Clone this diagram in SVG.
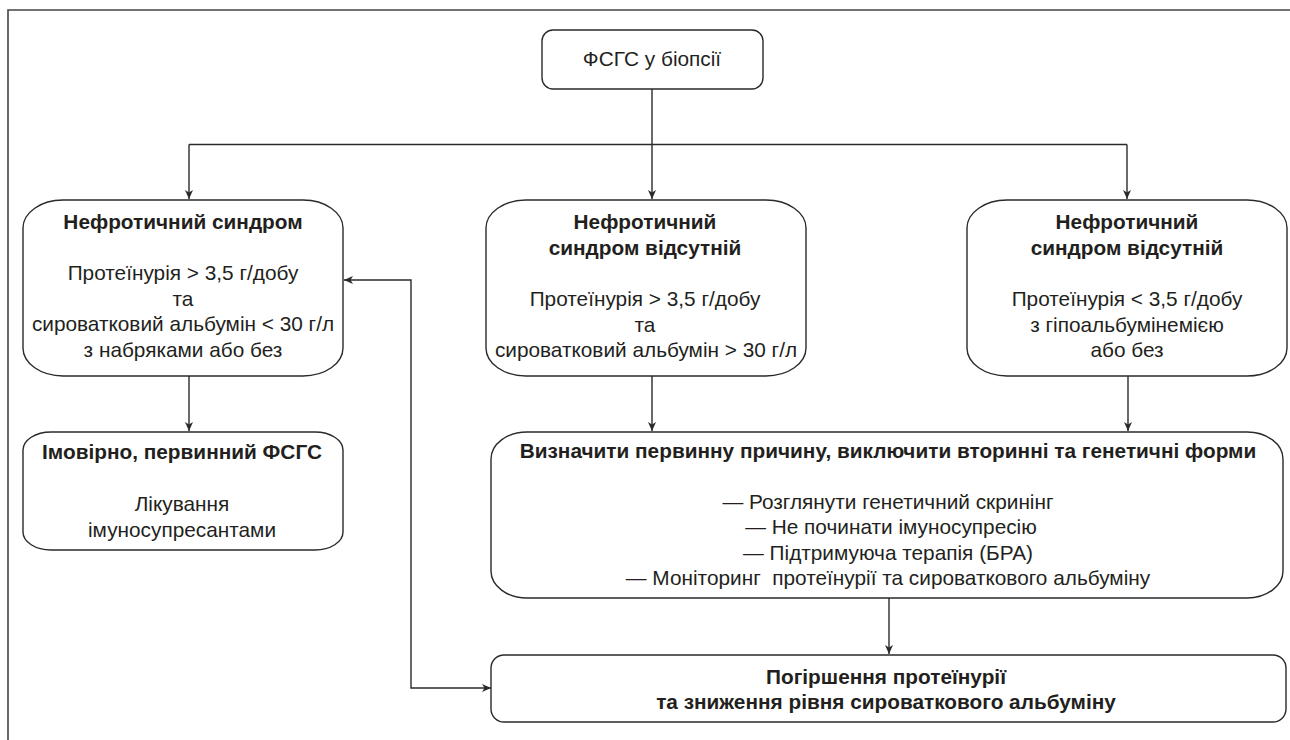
<svg xmlns="http://www.w3.org/2000/svg" width="1290" height="740" viewBox="0 0 1290 740">
<style>
.box{fill:#fff;stroke:#2a2a2a;stroke-width:1.4}
.t{font-family:"Liberation Sans",Arial,Helvetica,sans-serif;font-size:20.8px;fill:#231f20;text-anchor:middle}
.b{font-weight:bold}
.c{fill:none;stroke:#2a2a2a;stroke-width:1.4}
.frame{fill:none;stroke:#444;stroke-width:1.6}
</style>
<defs>
<marker id="ah" markerWidth="10" markerHeight="10" refX="9" refY="5" orient="auto-start-reverse" markerUnits="userSpaceOnUse">
<path d="M0,1 L9,5 L0,9 L2.5,5 Z" fill="#2a2a2a"/>
</marker>
</defs>
<rect width="1290" height="740" fill="#fff"/>
<path class="frame" d="M8,740 V10 H1290"/>

<g id="connectors">
<path class="c" d="M652,89 V199" marker-end="url(#ah)"/>
<path class="c" d="M189,144.5 H1127"/>
<path class="c" d="M189,144.5 V199" marker-end="url(#ah)"/>
<path class="c" d="M1127,144.5 V199" marker-end="url(#ah)"/>
<path class="c" d="M189,376 V431" marker-end="url(#ah)"/>
<path class="c" d="M652,376 V431" marker-end="url(#ah)"/>
<path class="c" d="M1128,376 V431" marker-end="url(#ah)"/>
<path class="c" d="M889,598 V654" marker-end="url(#ah)"/>
<path class="c" d="M344,280 H411 V688 H491" marker-start="url(#ah)" marker-end="url(#ah)"/>
</g>

<g id="n-biopsy">
<rect class="box" x="542" y="30" width="221" height="59" rx="11" ry="11"/>
<text class="t" x="652" y="66">ФСГС у біопсії</text>
</g>

<g id="n-nephrotic">
<rect class="box" x="23" y="200" width="320" height="176" rx="40" ry="28"/>
<text class="t b" x="183" y="229">Нефротичний синдром</text>
<text class="t" x="183" y="280">Протеїнурія &gt; 3,5 г/добу</text>
<text class="t" x="183" y="305.5">та</text>
<text class="t" x="183" y="331">сироватковий альбумін &lt; 30 г/л</text>
<text class="t" x="183" y="356.5">з набряками або без</text>
</g>

<g id="n-absent1">
<rect class="box" x="486" y="200" width="320" height="176" rx="40" ry="28"/>
<text class="t b" x="645" y="229">Нефротичний</text>
<text class="t b" x="645" y="255">синдром відсутній</text>
<text class="t" x="645" y="306">Протеїнурія &gt; 3,5 г/добу</text>
<text class="t" x="645" y="331.5">та</text>
<text class="t" x="646" y="357">сироватковий альбумін &gt; 30 г/л</text>
</g>

<g id="n-absent2">
<rect class="box" x="967" y="200" width="320" height="176" rx="40" ry="28"/>
<text class="t b" x="1127" y="229">Нефротичний</text>
<text class="t b" x="1127" y="255">синдром відсутній</text>
<text class="t" x="1127" y="306">Протеїнурія &lt; 3,5 г/добу</text>
<text class="t" x="1127" y="331.5">з гіпоальбумінемією</text>
<text class="t" x="1127" y="357">або без</text>
</g>

<g id="n-primary">
<rect class="box" x="23" y="432" width="320" height="118" rx="28" ry="18"/>
<text class="t b" x="182" y="459">Імовірно, первинний ФСГС</text>
<text class="t" x="182" y="511">Лікування</text>
<text class="t" x="182" y="537">імуносупресантами</text>
</g>

<g id="n-determine">
<rect class="box" x="491" y="432" width="792" height="166" rx="36" ry="27"/>
<text class="t b" x="888" y="458">Визначити первинну причину, виключити вторинні та генетичні форми</text>
<text class="t" x="888" y="509">— Розглянути генетичний скринінг</text>
<text class="t" x="891" y="534">— Не починати імуносупресію</text>
<text class="t" x="888" y="559.5">— Підтримуюча терапія (БРА)</text>
<text class="t" x="888" y="585" style="white-space:pre">— Моніторинг  протеїнурії та сироваткового альбуміну</text>
</g>

<g id="n-worsening">
<rect class="box" x="491" y="655" width="795" height="67" rx="13" ry="13"/>
<text class="t b" x="886" y="684">Погіршення протеїнурії</text>
<text class="t b" x="886" y="709">та зниження рівня сироваткового альбуміну</text>
</g>
</svg>
